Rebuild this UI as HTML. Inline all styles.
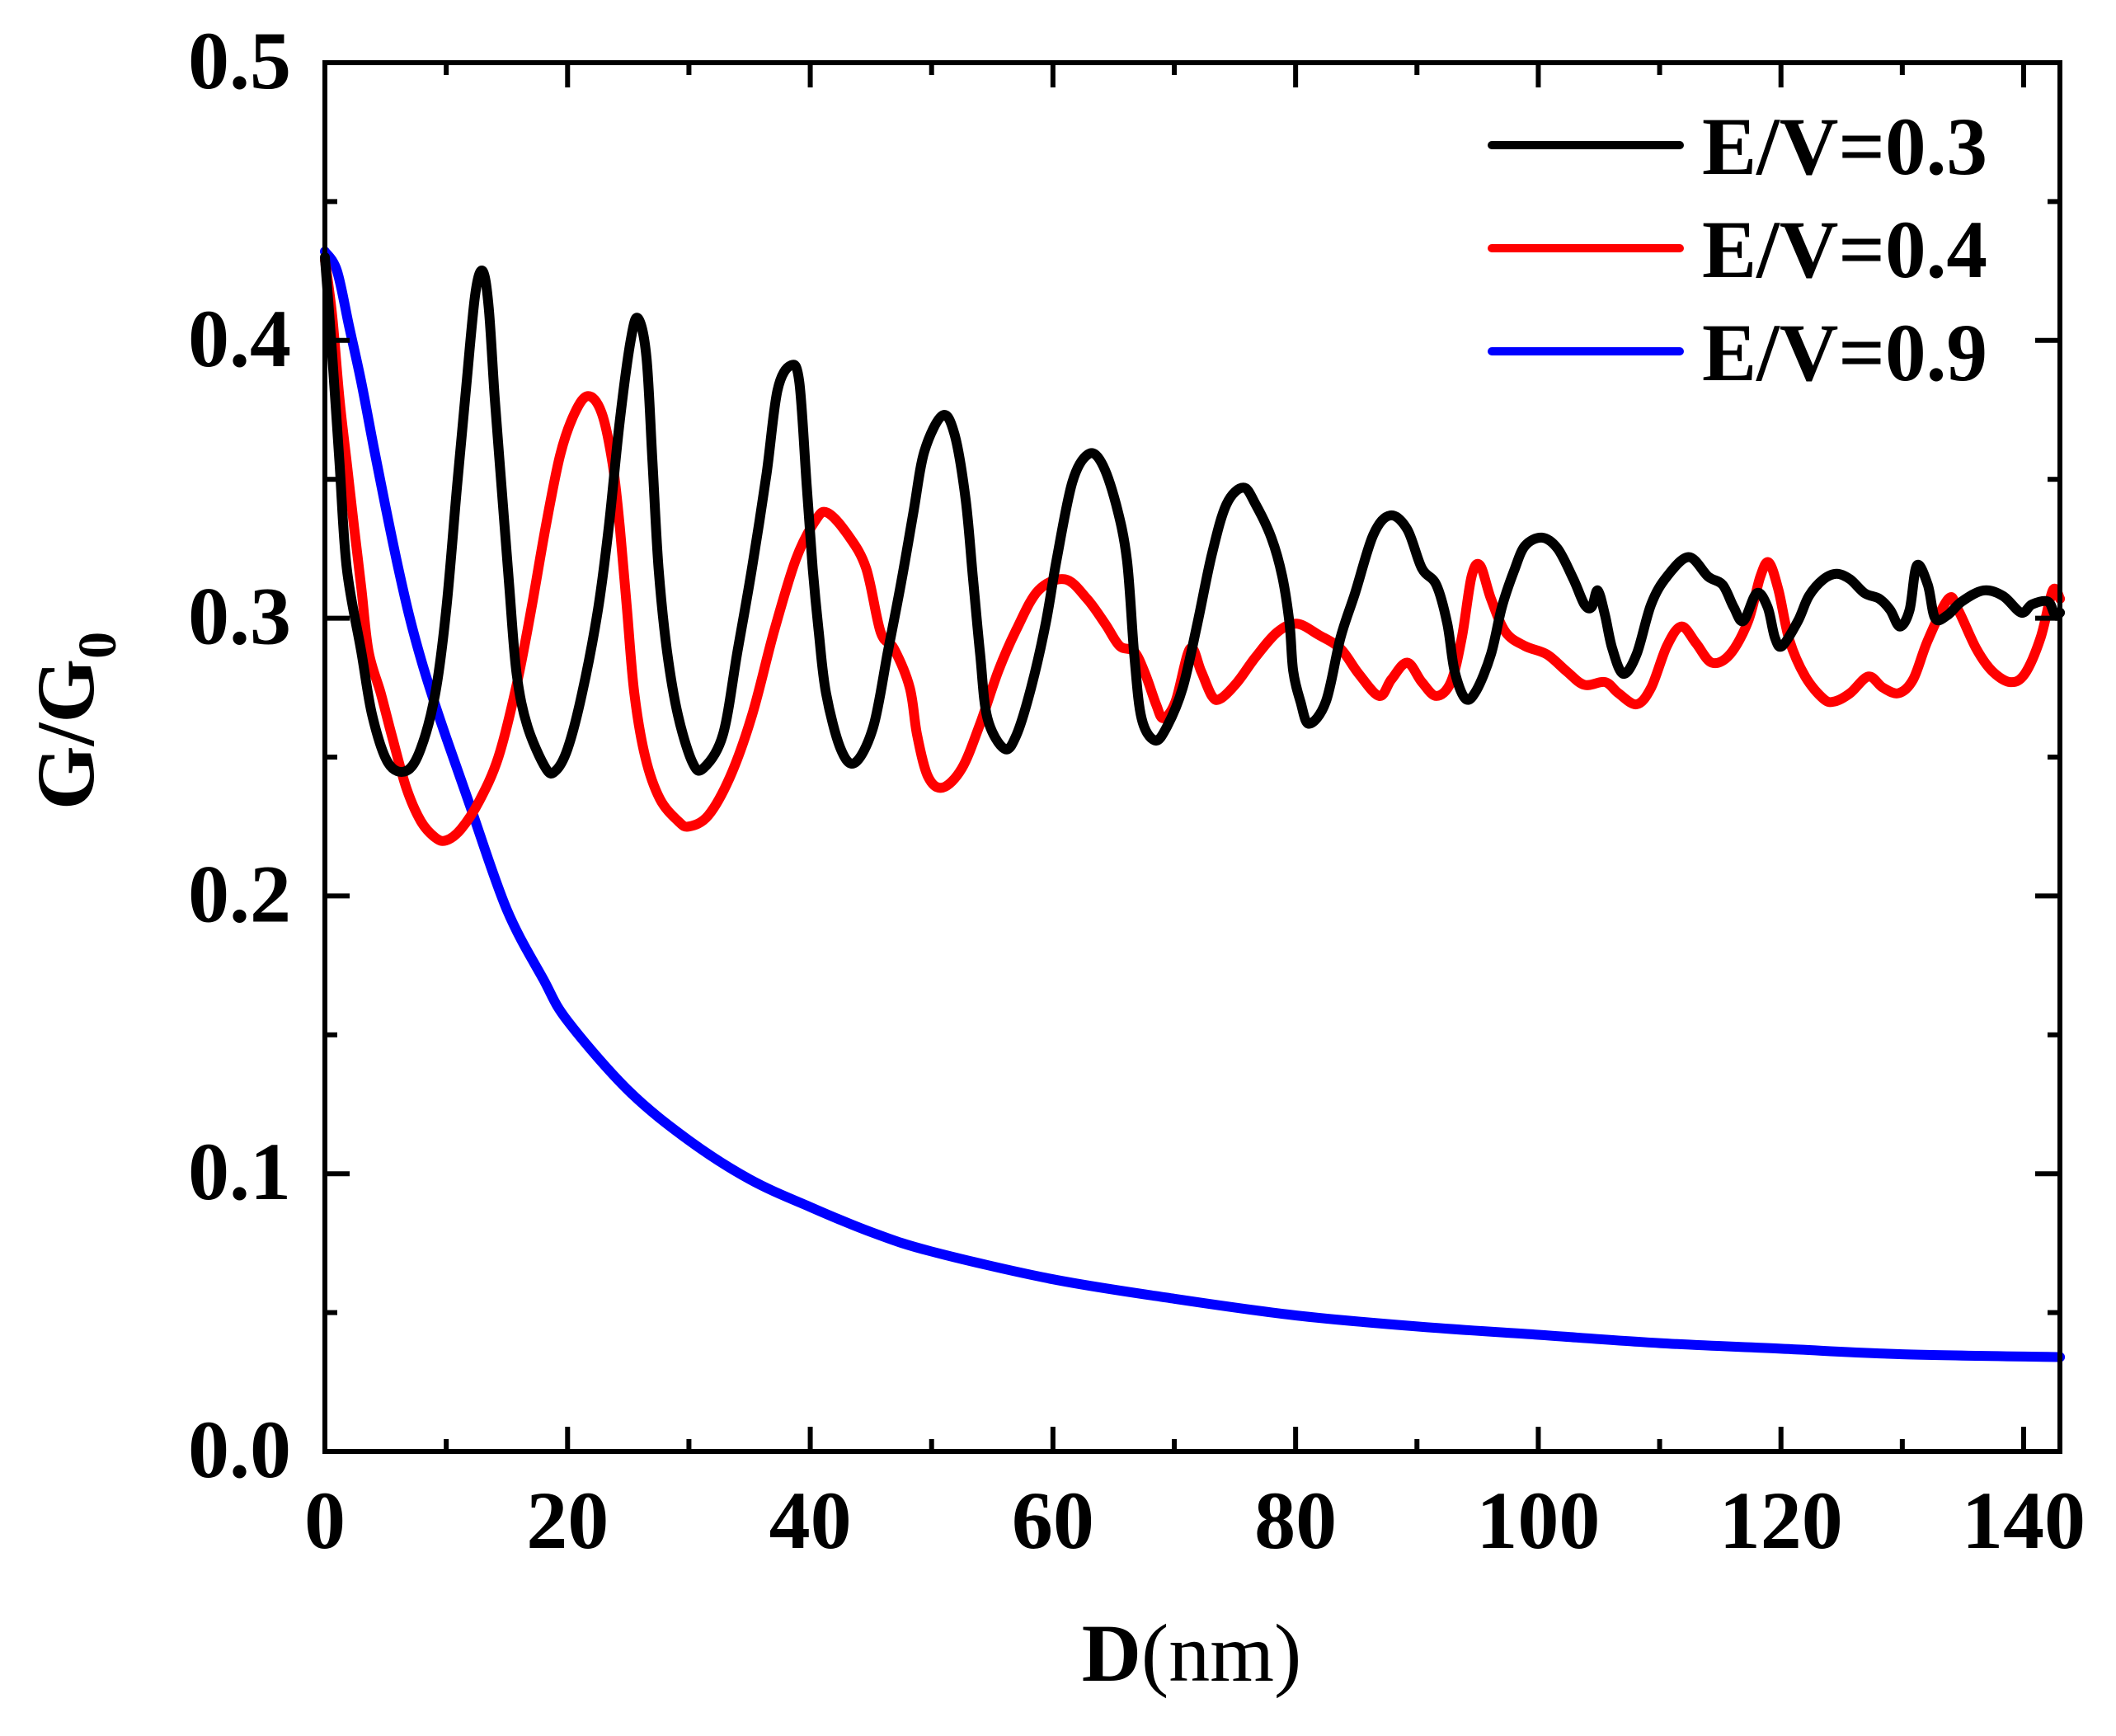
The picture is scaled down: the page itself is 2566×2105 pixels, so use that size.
<!DOCTYPE html>
<html>
<head>
<meta charset="utf-8">
<style>
  html,body{margin:0;padding:0;background:#fff;}
  svg{display:block;}
  text{font-family:"Liberation Serif",serif;}
</style>
</head>
<body>
<svg id="chart" width="2566" height="2105" viewBox="0 0 2566 2105" xmlns="http://www.w3.org/2000/svg">
  <rect x="0" y="0" width="2566" height="2105" fill="#fff"/>
  <g id="series"></g>
  <g id="axes"></g>
  <text x="1445" y="2038" text-anchor="middle" font-size="100"><tspan font-weight="bold">D</tspan>(nm)</text>
  <text transform="translate(113,874) rotate(-90)" text-anchor="middle" font-size="100" font-weight="bold">G/G<tspan font-size="66" dy="27">0</tspan></text>
  <g>
    <line x1="1809" y1="176" x2="2037" y2="176" stroke="#000" stroke-width="10" stroke-linecap="round"/>
    <text x="2064" y="211" font-size="100" font-weight="bold" textLength="346" lengthAdjust="spacingAndGlyphs">E/V=0.3</text>
    <line x1="1809" y1="301" x2="2037" y2="301" stroke="#ff0000" stroke-width="10" stroke-linecap="round"/>
    <text x="2064" y="336" font-size="100" font-weight="bold" textLength="346" lengthAdjust="spacingAndGlyphs">E/V=0.4</text>
    <line x1="1809" y1="426" x2="2037" y2="426" stroke="#0000ff" stroke-width="10" stroke-linecap="round"/>
    <text x="2064" y="461" font-size="100" font-weight="bold" textLength="346" lengthAdjust="spacingAndGlyphs">E/V=0.9</text>
  </g>
</svg>
<script>
const xTicks = [0, 20, 40, 60, 80, 100, 120, 140];
const xTickLabels = ["0", "20", "40", "60", "80", "100", "120", "140"];
const yTicks = [0, 0.1, 0.2, 0.3, 0.4, 0.5];
const yTickLabels = ["0.0", "0.1", "0.2", "0.3", "0.4", "0.5"];

const blackD = [0,0.6,1.2,1.8,3.0,3.9,5.2,6.7,7.9,9.1,10.0,10.9,11.7,12.4,13.0,13.5,14.0,14.6,15.2,15.8,16.7,18.2,19.0,20.0,21.2,22.5,23.4,24.3,25.2,25.8,26.5,27.0,27.5,28.2,29.1,30.3,31.2,32.8,34.0,35.2,36.4,37.3,38.4,39.1,39.7,40.2,40.7,41.3,42.5,43.7,45.2,46.4,47.5,48.5,49.4,50.9,51.9,52.8,53.4,54.0,54.6,56.0,57.0,58.2,59.4,60.3,61.6,62.9,64.0,65.2,66.1,66.7,67.3,68.4,69.4,70.7,71.9,73.1,74.3,75.7,76.7,78.0,78.9,79.5,79.8,80.4,81.1,82.5,83.7,84.9,86.4,87.8,89.2,90.4,91.6,92.5,93.1,94.0,94.9,96.1,97.0,98.0,98.9,100.3,101.6,102.9,103.8,104.4,104.9,105.5,106.1,107.0,108.1,109.3,110.6,112.4,114.0,115.2,116.1,116.9,118.0,118.9,119.5,120.1,121.4,122.3,123.5,124.6,125.7,126.9,128.1,129.0,129.8,130.6,131.2,132.1,132.7,133.7,134.9,136.7,138.3,139.8,140.7,142.0,142.6,143.0];
const blackG = [0.430,0.395,0.356,0.318,0.288,0.265,0.248,0.245,0.253,0.273,0.303,0.348,0.386,0.417,0.425,0.412,0.379,0.345,0.311,0.280,0.261,0.246,0.245,0.253,0.273,0.303,0.333,0.371,0.400,0.408,0.394,0.356,0.318,0.288,0.265,0.248,0.246,0.258,0.288,0.318,0.352,0.382,0.391,0.385,0.348,0.318,0.295,0.273,0.253,0.248,0.261,0.288,0.313,0.338,0.360,0.373,0.366,0.343,0.315,0.287,0.264,0.253,0.258,0.275,0.298,0.321,0.349,0.359,0.356,0.341,0.321,0.287,0.264,0.256,0.261,0.275,0.298,0.323,0.341,0.347,0.341,0.329,0.315,0.298,0.281,0.270,0.262,0.270,0.293,0.309,0.330,0.337,0.332,0.318,0.312,0.298,0.281,0.271,0.274,0.287,0.304,0.317,0.326,0.329,0.325,0.314,0.305,0.304,0.310,0.301,0.289,0.280,0.287,0.305,0.315,0.322,0.315,0.312,0.304,0.299,0.309,0.304,0.293,0.290,0.299,0.308,0.314,0.316,0.314,0.309,0.307,0.303,0.297,0.303,0.319,0.312,0.300,0.301,0.306,0.310,0.308,0.302,0.305,0.306,0.301,0.302];

const redD = [0,0.6,1.2,1.8,2.4,3.0,3.6,4.6,5.5,6.7,7.9,9.1,10.0,11.2,12.7,14.3,15.8,17.0,18.2,19.4,20.6,21.7,22.8,23.7,24.3,24.9,25.5,26.4,27.6,29.1,30.0,31.6,33.4,35.2,37.0,38.8,40.4,41.4,43.1,44.6,45.8,46.9,48.2,48.8,49.7,50.9,52.5,54.0,55.5,57.0,58.8,61.0,62.8,64.3,65.5,66.7,67.6,68.5,69.1,70.1,71.3,72.2,73.1,73.8,75.2,76.7,78.5,80.1,81.9,83.7,85.2,86.9,87.9,89.2,90.4,91.6,92.8,93.7,94.5,95.2,96.1,97.3,98.9,100.7,102.3,103.8,105.5,106.6,108.1,109.3,110.6,111.8,113.0,114.3,115.8,117.3,118.3,119.0,119.8,120.7,122.0,123.5,124.4,125.7,127.2,128.4,129.7,130.9,132.1,133.8,134.6,136.1,137.4,138.9,140.1,141.4,142.4,143.0];
const redG = [0.429,0.409,0.379,0.356,0.333,0.311,0.288,0.273,0.258,0.239,0.227,0.221,0.220,0.224,0.234,0.250,0.276,0.303,0.333,0.359,0.374,0.380,0.374,0.356,0.333,0.303,0.273,0.250,0.235,0.227,0.225,0.229,0.243,0.265,0.295,0.321,0.335,0.338,0.330,0.318,0.295,0.289,0.275,0.258,0.243,0.239,0.246,0.262,0.281,0.296,0.310,0.314,0.307,0.298,0.290,0.288,0.280,0.269,0.264,0.270,0.289,0.281,0.272,0.271,0.277,0.286,0.295,0.298,0.294,0.289,0.280,0.272,0.278,0.284,0.277,0.272,0.277,0.293,0.315,0.319,0.307,0.295,0.290,0.287,0.281,0.276,0.277,0.273,0.269,0.275,0.290,0.297,0.291,0.284,0.287,0.299,0.315,0.320,0.310,0.292,0.279,0.271,0.270,0.273,0.279,0.275,0.273,0.278,0.292,0.307,0.303,0.289,0.281,0.277,0.280,0.293,0.310,0.307];

const blueD = [0,1,2,3,4,5,6,7,8,9,10,12,15,18,20,25,30,35,40,45,50,60,70,80,90,100,110,120,130,143];
const blueG = [0.432,0.425,0.405,0.385,0.362,0.340,0.319,0.300,0.284,0.270,0.257,0.232,0.195,0.170,0.155,0.130,0.112,0.098,0.088,0.079,0.072,0.062,0.055,0.049,0.045,0.042,0.039,0.037,0.035,0.034];

const X0 = 394, X1 = 2498, Y0 = 1760, Y1 = 76;
const xMin = 0, xMax = 143, yMin = 0, yMax = 0.5;
const xPerUnit = (2454 - X0) / 140;
function sx(d){ return X0 + (d - xMin) * xPerUnit; }
function sy(v){ return Y0 - (v - yMin) / (yMax - yMin) * (Y0 - Y1); }

const NS = "http://www.w3.org/2000/svg";
const seriesG = document.getElementById("series");
const axesG = document.getElementById("axes");

function drawSeries(ds, gs, color, name){
  const pts = ds.map((d, i) => [sx(d), sy(gs[i])]);
  let d = "M" + pts[0][0].toFixed(1) + " " + pts[0][1].toFixed(1);
  for (let i = 0; i < pts.length - 1; i++){
    const p0 = pts[Math.max(i - 1, 0)], p1 = pts[i], p2 = pts[i + 1], p3 = pts[Math.min(i + 2, pts.length - 1)];
    const t = 0.5 / 3;
    const c1x = p1[0] + (p2[0] - p0[0]) * t, c1y = p1[1] + (p2[1] - p0[1]) * t;
    const c2x = p2[0] - (p3[0] - p1[0]) * t, c2y = p2[1] - (p3[1] - p1[1]) * t;
    d += "C" + c1x.toFixed(1) + " " + c1y.toFixed(1) + " " + c2x.toFixed(1) + " " + c2y.toFixed(1) + " " + p2[0].toFixed(1) + " " + p2[1].toFixed(1);
  }
  const p = document.createElementNS(NS, "path");
  p.setAttribute("d", d);
  p.setAttribute("fill", "none");
  p.setAttribute("stroke", color);
  p.setAttribute("stroke-width", "12");
  p.setAttribute("stroke-linejoin", "round");
  p.setAttribute("stroke-linecap", "round");
  
  
  seriesG.appendChild(p);
}
drawSeries(blueD, blueG, "#0000ff", "series-ev09");
drawSeries(redD, redG, "#ff0000", "series-ev04");
drawSeries(blackD, blackG, "#000000", "series-ev03");

function line(x1,y1,x2,y2,w,name){
  const l = document.createElementNS(NS, "line");
  l.setAttribute("x1", x1); l.setAttribute("y1", y1);
  l.setAttribute("x2", x2); l.setAttribute("y2", y2);
  l.setAttribute("stroke", "#000");
  l.setAttribute("stroke-width", w);
  
  
  axesG.appendChild(l);
}
function label(x,y,txt,anchor,name){
  const t = document.createElementNS(NS, "text");
  t.setAttribute("x", x); t.setAttribute("y", y);
  t.setAttribute("text-anchor", anchor);
  t.setAttribute("font-size", "100");
  t.setAttribute("font-weight", "bold");
  t.textContent = txt;
  
  
  axesG.appendChild(t);
}

const fr = document.createElementNS(NS, "rect");
fr.setAttribute("x", X0); fr.setAttribute("y", Y1);
fr.setAttribute("width", X1 - X0); fr.setAttribute("height", Y0 - Y1);
fr.setAttribute("fill", "none"); fr.setAttribute("stroke", "#000"); fr.setAttribute("stroke-width", "6");


axesG.appendChild(fr);

for (let i = 0; i < xTicks.length; i++){
  const x = sx(xTicks[i]);
  line(x, Y0, x, Y0 - 30, 6, "x-major-tick");
  line(x, Y1, x, Y1 + 30, 6, "x-top-major-tick");
  label(x, 1877, xTickLabels[i], "middle", "x-tick-label");
  const m = xTicks[i] + 10;
  if (m < xMax){
    const xm = sx(m);
    line(xm, Y0, xm, Y0 - 15, 6, "x-minor-tick");
    line(xm, Y1, xm, Y1 + 15, 6, "x-top-minor-tick");
  }
}
for (let i = 0; i < yTicks.length; i++){
  const y = sy(yTicks[i]);
  line(X0, y, X0 + 30, y, 6, "y-major-tick");
  line(X1, y, X1 - 30, y, 6, "y-right-major-tick");
  label(353, y + 31, yTickLabels[i], "end", "y-tick-label");
  const m = yTicks[i] + 0.05;
  if (m < yMax){
    const ym = sy(m);
    line(X0, ym, X0 + 15, ym, 6, "y-minor-tick");
    line(X1, ym, X1 - 15, ym, 6, "y-right-minor-tick");
  }
}
</script>
</body>
</html>
